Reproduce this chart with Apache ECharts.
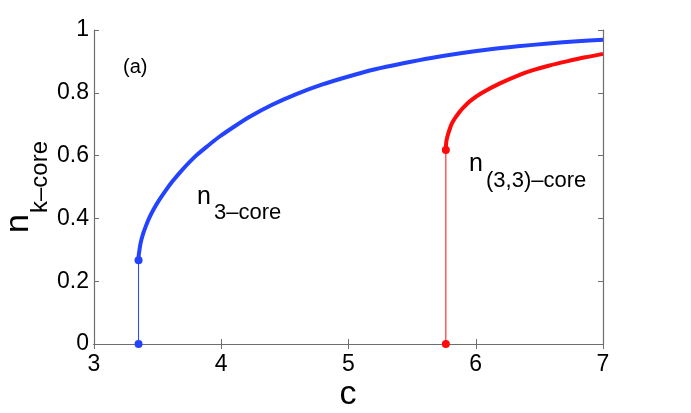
<!DOCTYPE html>
<html><head><meta charset="utf-8">
<script src="https://cdn.jsdelivr.net/npm/echarts@6/dist/echarts.min.js"></script>
<style>html,body{margin:0;padding:0;background:#fff}#c{width:691px;height:413px}</style>
</head><body><div id="c"></div>
<script>
// x: mean degree c ; y: fraction of nodes in core
const xTicks = [3, 4, 5, 6, 7];
const yTicks = [0, 0.2, 0.4, 0.6, 0.8, 1];
const c3core = [3.35, 3.351, 3.356, 3.367, 3.385, 3.409, 3.437, 3.47, 3.508, 3.56, 3.617, 3.692, 3.80, 3.891, 3.985, 4.10, 4.22, 4.40, 4.59, 4.79, 5.00, 5.21, 5.43, 5.65, 5.88, 6.10, 6.33, 6.57, 6.80, 7.0];
const n3core = [0.267, 0.28, 0.296, 0.323, 0.35, 0.377, 0.404, 0.43, 0.456, 0.487, 0.518, 0.554, 0.599, 0.630, 0.660, 0.692, 0.723, 0.762, 0.796, 0.826, 0.852, 0.875, 0.894, 0.911, 0.926, 0.938, 0.948, 0.957, 0.964, 0.969];
const c33core = [5.765, 5.766, 5.77, 5.78, 5.795, 5.81, 5.835, 5.865, 5.90, 5.96, 6.05, 6.19, 6.35, 6.45, 6.58, 6.715, 6.86, 7.0];
const n33core = [0.618, 0.632, 0.648, 0.665, 0.684, 0.70, 0.718, 0.735, 0.752, 0.775, 0.80, 0.83, 0.858, 0.872, 0.887, 0.90, 0.913, 0.924];
const jump3 = { c: 3.35, low: 0, high: 0.267 };
const jump33 = { c: 5.765, low: 0, high: 0.618 };

const FONT = 'Liberation Sans, Arial, Helvetica, sans-serif';
const BLUE = '#2443ff', RED = '#ff0a0a';
const zip = (a, b) => a.map((v, i) => [v, b[i]]);

const chart = echarts.init(document.getElementById('c'));
const gridAxisGrey = '#6e6e6e';
chart.setOption({
  animation: false,
  backgroundColor: '#fff',
  grid: { left: 94, right: 88, top: 30, bottom: 69 },
  xAxis: [{
    type: 'value', min: xTicks[0], max: xTicks[xTicks.length - 1], interval: 1,
    axisLine: { lineStyle: { color: '#000', width: 1.2 } },
    axisTick: { inside: true, length: 5, lineStyle: { color: gridAxisGrey } },
    axisLabel: { fontSize: 23, color: '#000', fontFamily: FONT, margin: 9 },
    splitLine: { show: false }
  }, {
    type: 'value', position: 'top', min: xTicks[0], max: xTicks[xTicks.length - 1], interval: 1,
    axisLine: { show: true, lineStyle: { color: gridAxisGrey, width: 1.2 } },
    axisTick: { inside: true, length: 5, lineStyle: { color: gridAxisGrey } },
    axisLabel: { show: false }, splitLine: { show: false }
  }],
  yAxis: [{
    type: 'value', min: 0, max: 1, interval: 0.2,
    axisLine: { show: true, lineStyle: { color: gridAxisGrey, width: 1.2 } },
    axisTick: { show: true, inside: true, length: 5, lineStyle: { color: gridAxisGrey } },
    axisLabel: { fontSize: 23, color: '#000', fontFamily: FONT, margin: 5 },
    splitLine: { show: false }
  }, {
    type: 'value', position: 'right', min: 0, max: 1, interval: 0.2,
    axisLine: { show: true, lineStyle: { color: gridAxisGrey, width: 1.2 } },
    axisTick: { show: true, inside: true, length: 5, lineStyle: { color: gridAxisGrey } },
    axisLabel: { show: false }, splitLine: { show: false }
  }],
  series: [
    { type: 'line', data: zip(c3core, n3core), smooth: 0.25, showSymbol: false, lineStyle: { color: BLUE, width: 4 }, z: 3 },
    { type: 'line', data: zip(c33core, n33core), smooth: 0.25, showSymbol: false, lineStyle: { color: RED, width: 4 }, z: 3 },
    { type: 'line', data: [[jump3.c, jump3.low], [jump3.c, jump3.high]], symbol: 'circle', symbolSize: 8, itemStyle: { color: BLUE }, lineStyle: { color: BLUE, width: 1 }, z: 4 },
    { type: 'line', data: [[jump33.c, jump33.low], [jump33.c, jump33.high]], symbol: 'circle', symbolSize: 8, itemStyle: { color: RED }, lineStyle: { color: RED, width: 1 }, z: 4 }
  ],
  graphic: [
    { type: 'text', left: 123, top: 57, style: { text: '(a)', fontSize: 20, fontFamily: FONT, fill: '#000' } },
    { type: 'text', x: 197, y: 197, style: { text: 'n', fontSize: 25, fontFamily: FONT, fill: '#000', verticalAlign: 'middle' } },
    { type: 'text', x: 214, y: 213, style: { text: '3\u2013core', fontSize: 22, fontFamily: FONT, fill: '#000', verticalAlign: 'middle' } },
    { type: 'text', x: 469, y: 164, style: { text: 'n', fontSize: 25, fontFamily: FONT, fill: '#000', verticalAlign: 'middle' } },
    { type: 'text', x: 486, y: 181, style: { text: '(3,3)\u2013core', fontSize: 22, fontFamily: FONT, fill: '#000', verticalAlign: 'middle' } },
    { type: 'text', x: 348, y: 395, style: { text: 'c', fontSize: 34, fontFamily: FONT, fill: '#000', align: 'center', verticalAlign: 'middle' } },
    { type: 'text', x: 19, y: 233, rotation: Math.PI / 2, style: { text: 'n', fontSize: 34, fontFamily: FONT, fill: '#000', align: 'left', verticalAlign: 'middle' } },
    { type: 'text', x: 40, y: 213, rotation: Math.PI / 2, style: { text: 'k\u2013core', fontSize: 24, fontFamily: FONT, fill: '#000', align: 'left', verticalAlign: 'middle' } }
  ]
});
</script></body></html>
